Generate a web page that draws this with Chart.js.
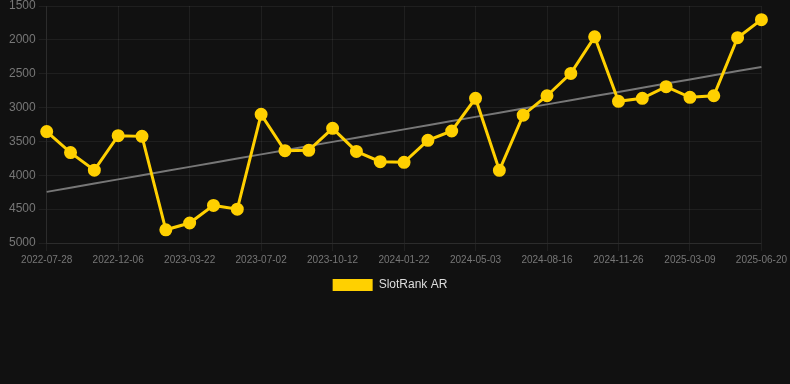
<!DOCTYPE html>
<html>
<head>
<meta charset="utf-8">
<script src="https://cdn.jsdelivr.net/npm/chart.js@4.4.0/dist/chart.umd.min.js"></script>
<style>
html,body{margin:0;padding:0;background:#111111;overflow:hidden;}
#wrap{width:790px;height:304px;position:relative;margin-top:-3px;}
</style>
</head>
<body>
<div id="wrap"><canvas id="c"></canvas></div>
<script>
const dates = ["2022-07-28","2022-09-10","2022-10-24","2022-12-06","2023-01-10","2023-02-15","2023-03-22","2023-04-25","2023-05-29","2023-07-02","2023-08-05","2023-09-08","2023-10-12","2023-11-15","2023-12-19","2024-01-22","2024-02-25","2024-03-30","2024-05-03","2024-06-07","2024-07-12","2024-08-16","2024-09-19","2024-10-23","2024-11-26","2024-12-30","2025-02-03","2025-03-09","2025-04-12","2025-05-16","2025-06-20"];
const rankValues = [3355,3665,3925,3415,3425,4805,4705,4445,4500,3100,3637,3632,3307,3647,3799,3809,3484,3346,2864,3927,3112,2825,2495,1955,2908,2864,2692,2849,2825,1968,1702];
const yTicks = [1500,2000,2500,3000,3500,4000,4500,5000];

// linear trend from the data
const n = rankValues.length;
let sx=0, sy=0, sxy=0, sxx=0;
rankValues.forEach((v,i)=>{sx+=i;sy+=v;sxy+=i*v;sxx+=i*i;});
const slope = (n*sxy - sx*sy)/(n*sxx - sx*sx);
const icpt = (sy - slope*sx)/n;
const trendValues = rankValues.map((_,i)=>icpt+slope*i);

new Chart(document.getElementById('c'), {
  type: 'line',
  data: {
    labels: dates,
    datasets: [
      {
        label: 'SlotRank AR',
        data: rankValues,
        borderColor: '#FFD000',
        backgroundColor: '#FFD000',
        borderWidth: 3,
        pointRadius: 5,
        pointHoverRadius: 6,
        pointBackgroundColor: '#FFD000',
        pointBorderColor: '#FFD000',
        tension: 0,
        order: 1
      },
      {
        label: 'trend',
        data: trendValues,
        borderColor: '#777777',
        borderWidth: 2,
        pointRadius: 0,
        fill: false,
        order: 2
      }
    ]
  },
  options: {
    responsive: true,
    maintainAspectRatio: false,
    animation: false,
    layout: { padding: { left: 6, right: 16, top: 0, bottom: 0 } },
    plugins: {
      legend: {
        position: 'bottom',
        labels: {
          color: '#dddddd',
          font: { family: 'Liberation Sans, Arial, sans-serif', size: 12 },
          boxWidth: 40,
          boxHeight: 12,
          generateLabels: (chart) => {
            const items = Chart.defaults.plugins.legend.labels.generateLabels(chart);
            return items.filter(it => it.text !== 'trend').map(it => Object.assign(it, { lineWidth: 0 }));
          }
        }
      },
      tooltip: { enabled: false }
    },
    scales: {
      x: {
        grid: { color: 'rgba(255,255,255,0.06)', tickLength: 8 },
        border: { color: 'rgba(255,255,255,0.06)' },
        ticks: {
          color: '#777777',
          font: { family: 'Liberation Sans, Arial, sans-serif', size: 10 },
          maxRotation: 0,
          autoSkip: false,
          callback: function(v, i) { return i % 3 === 0 ? dates[i] : null; }
        }
      },
      y: {
        reverse: true,
        min: 1500,
        max: 5000,
        grid: { color: 'rgba(255,255,255,0.06)', tickLength: 8 },
        border: { color: 'rgba(255,255,255,0.06)' },
        afterBuildTicks: (axis) => { axis.ticks = yTicks.map(v => ({ value: v })); },
        ticks: {
          color: '#777777',
          font: { family: 'Liberation Sans, Arial, sans-serif', size: 12, lineHeight: 0.6 },
          callback: (v) => String(v)
        }
      }
    }
  }
});
</script>
</body>
</html>
